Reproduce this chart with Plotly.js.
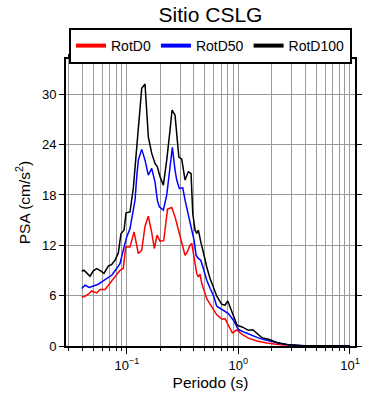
<!DOCTYPE html>
<html>
<head>
<meta charset="utf-8">
<script src="https://cdn.plot.ly/plotly-3.0.1.min.js"></script>
<style>html,body{margin:0;padding:0;background:#fff;}#chart{width:390px;height:400px;}</style>
</head>
<body>
<div id="chart"></div>
<script>
// Series names
const seriesNames = ["RotD0", "RotD50", "RotD100"];
const seriesColors = ["#ff0000", "#0000ff", "#000000"];

// RotD0 (red)
const periodD0 = [0.0394,0.0422,0.0452,0.0484,0.0537,0.0575,0.0638,0.0682,0.0757,0.0812,0.0869,0.0930,0.0977,0.1068,0.1161,0.1268,0.1360,0.1456,0.1559,0.1672,0.1764,0.1866,0.1985,0.2143,0.2317,0.2527,0.2705,0.2957,0.3108,0.3326,0.3488,0.3687,0.3821,0.4005,0.4234,0.4377,0.4534,0.4695,0.5028,0.5206,0.5775,0.6402,0.7099,0.7598,0.8134,0.8835,0.9675,1.073,1.2295,1.4622,1.798,2.366,3.341,5.0,10.0];
const psaD0 = [5.85,5.93,6.17,6.56,6.32,6.73,6.73,7.24,7.92,8.43,9.03,9.23,11.81,11.81,13.60,11.02,11.42,14.28,15.47,13.50,11.62,13.21,12.49,12.55,16.31,16.51,15.39,13.41,12.22,10.82,11.21,12.01,12.22,10.62,8.64,8.23,8.55,7.44,6.25,5.63,4.65,3.72,3.22,3.24,2.47,1.57,1.91,1.40,0.94,0.60,0.36,0.16,0.05,0.02,0.01];

// RotD50 (blue)
const periodD50 = [0.0394,0.0422,0.0461,0.0501,0.0555,0.0595,0.0660,0.0732,0.0812,0.0869,0.0930,0.0998,0.1068,0.1130,0.1185,0.1227,0.1268,0.1360,0.1456,0.1559,0.1672,0.1790,0.1877,0.1956,0.2125,0.2279,0.2390,0.2559,0.2705,0.2802,0.2957,0.3172,0.3326,0.3560,0.3821,0.4005,0.4175,0.4377,0.4601,0.4855,0.5206,0.5573,0.5966,0.6402,0.7099,0.7598,0.8134,0.9020,1.0,1.148,1.319,1.565,1.924,2.366,2.909,4.108,6.0,10.0];
const psaD50 = [6.85,7.24,6.97,7.12,7.36,7.63,8.04,8.43,9.23,9.83,11.42,13.00,14.00,15.79,17.38,20.16,22.15,23.43,22.15,20.36,21.16,19.53,17.38,16.58,16.19,17.98,20.36,23.67,20.96,19.77,18.78,18.85,17.38,15.79,13.80,12.61,10.82,10.43,10.22,9.23,7.84,6.88,6.05,4.74,4.32,4.06,3.86,3.07,1.96,1.60,1.28,0.88,0.60,0.29,0.12,0.03,0.02,0.01];

// RotD100 (black)
const periodD100 = [0.0394,0.0413,0.0437,0.0468,0.0501,0.0537,0.0583,0.0624,0.0682,0.0732,0.0784,0.0839,0.0887,0.0944,0.0984,0.1068,0.1143,0.1227,0.1295,0.1360,0.1456,0.1509,0.1559,0.1672,0.1790,0.1877,0.1985,0.2125,0.2279,0.2440,0.2543,0.2705,0.2837,0.2927,0.3108,0.3326,0.3560,0.3765,0.3900,0.4088,0.4234,0.4377,0.4601,0.4795,0.4925,0.5206,0.5573,0.5966,0.6402,0.7099,0.7598,0.8034,0.8425,0.9020,0.9735,1.0794,1.2295,1.3463,1.4622,1.6216,1.858,2.210,2.718,3.576,6.644,10.0];
const psaD100 = [8.91,9.03,8.71,8.31,8.95,9.23,8.95,8.64,9.51,9.71,10.22,11.09,13.41,13.80,15.87,15.98,18.78,23.34,26.92,30.70,31.22,28.51,24.93,22.95,21.76,21.35,20.16,19.17,22.15,25.73,28.12,27.52,24.93,22.51,22.27,19.77,20.76,20.57,15.79,13.80,13.41,13.80,12.41,11.21,10.82,9.42,8.04,7.04,5.93,4.97,4.86,5.37,4.65,3.66,2.47,2.27,1.87,1.93,1.48,1.00,0.80,0.41,0.17,0.05,0.02,0.01];

// Axis ticks
const yTicks = [0, 6, 12, 18, 24, 30];
const xTickVals = [0.1, 1, 10];

const periods = [periodD0, periodD50, periodD100];
const values = [psaD0, psaD50, psaD100];

const font = "Liberation Sans, Arial, Helvetica, sans-serif";

const traces = [];
for (let i = 0; i < 3; i++) {
  traces.push({
    x: periods[i], y: values[i], type: "scatter", mode: "lines",
    name: seriesNames[i], showlegend: false,
    line: {color: seriesColors[i], width: 1.5}
  });
}
for (let i = 0; i < 3; i++) {
  traces.push({
    x: [null], y: [null], type: "scatter", mode: "lines",
    name: seriesNames[i], showlegend: true,
    line: {color: seriesColors[i], width: 4}
  });
}

const layout = {
  width: 390, height: 400,
  margin: {l: 66, r: 35, t: 59, b: 54, pad: 0},
  paper_bgcolor: "#fff", plot_bgcolor: "#fff",
  font: {family: font, color: "#000", size: 13},
  title: {text: "Sitio CSLG", font: {size: 21, family: font, color: "#000"},
          x: 0.5, xref: "paper", xanchor: "center", y: 0.963, yref: "container", yanchor: "middle"},
  showlegend: true,
  legend: {orientation: "h", x: 0.5, xanchor: "center", y: 1.108, yanchor: "top",
           bordercolor: "#000", borderwidth: 2, bgcolor: "#fff",
           font: {size: 14, family: font, color: "#000"}, traceorder: "normal"},
  xaxis: {
    type: "log", range: [Math.log10(0.0285), Math.log10(11.1)],
    tickvals: xTickVals, exponentformat: "power", tickformat: "",
    ticktext: ["10<sup>\u22121</sup>", "10<sup>0</sup>", "10<sup>1</sup>"],
    ticks: "outside", ticklen: 6, tickwidth: 1, tickcolor: "#000",
    showline: true, linecolor: "#000", linewidth: 2, mirror: "ticks",
    showgrid: true, gridcolor: "#9a9a9a", gridwidth: 1,
    minor: {dtick: "D1", ticks: "outside", ticklen: 3, tickcolor: "#000", showgrid: true, gridcolor: "#9a9a9a", gridwidth: 1},
    zeroline: false,
    tickfont: {size: 13},
    title: {text: "Periodo (s)", font: {size: 15.5}, standoff: 6}
  },
  yaxis: {
    range: [0, 34.2], tickvals: yTicks,
    ticks: "outside", ticklen: 5, tickwidth: 1, tickcolor: "#000",
    showline: true, linecolor: "#000", linewidth: 2, mirror: "ticks",
    showgrid: true, gridcolor: "#9a9a9a", gridwidth: 1,
    zeroline: false,
    tickfont: {size: 13},
    title: {text: "PSA (cm/s<sup>2</sup>)", font: {size: 15.5}, standoff: 8}
  }
};

Plotly.newPlot("chart", traces, layout, {staticPlot: true, displayModeBar: false});
</script>
</body>
</html>
